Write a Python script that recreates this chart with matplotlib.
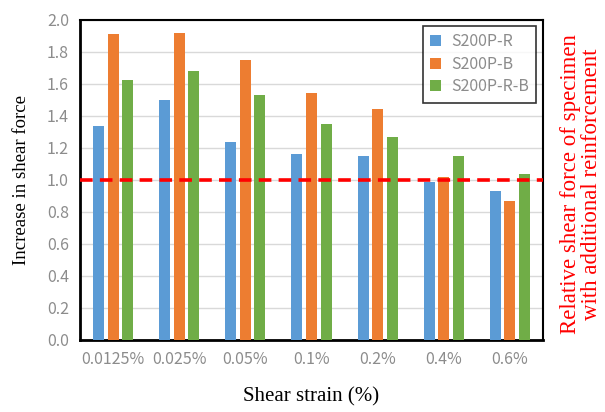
import numpy as np
import matplotlib.pyplot as plt

categories = ["0.0125%", "0.025%", "0.05%", "0.1%", "0.2%", "0.4%", "0.6%"]
series_names = ["S200P-R", "S200P-B", "S200P-R-B"]
r_vals = [1.34, 1.50, 1.24, 1.16, 1.15, 0.99, 0.93]
b_vals = [1.91, 1.92, 1.75, 1.545, 1.445, 1.02, 0.87]
rb_vals = [1.625, 1.68, 1.53, 1.35, 1.27, 1.15, 1.04]
yticks = [0.0, 0.2, 0.4, 0.6, 0.8, 1.0, 1.2, 1.4, 1.6, 1.8, 2.0]

colors = ["#5b9bd5", "#ed7d31", "#70ad47"]
tick_grey = "#8c8c8c"

fig = plt.figure(figsize=(6.05, 4.12), dpi=100)
ax = fig.add_axes([80 / 605, 1 - 340 / 412, 463 / 605, 320 / 412])

x = np.arange(len(categories))
w = 0.167
step = 0.22
for i, (vals, name) in enumerate(zip([r_vals, b_vals, rb_vals], series_names)):
    ax.bar(x + (i - 1) * step, vals, width=w, color=colors[i], label=name, zorder=3)

ax.axhline(1.0, color="red", linestyle=(0, (3.5, 2)), linewidth=2.6, zorder=4)

ax.set_xlim(-0.5, len(categories) - 0.5)
ax.set_ylim(0, 2.0)
ax.set_yticks(yticks)
ax.set_yticklabels([f"{t:.1f}" for t in yticks])
ax.set_xticks(x)
ax.set_xticklabels(categories)
ax.tick_params(axis="both", length=0, labelsize=11.5, colors=tick_grey, pad=8)
for lab in ax.get_xticklabels() + ax.get_yticklabels():
    lab.set_family("Noto Sans CJK SC")
ax.grid(axis="y", color="#d9d9d9", linewidth=1, zorder=0)

for side in ["left", "bottom"]:
    ax.spines[side].set_linewidth(2)
for side in ["top", "right"]:
    ax.spines[side].set_linewidth(1.5)

ax.set_xlabel("Shear strain (%)", family="Liberation Serif", fontsize=15, labelpad=14)
ax.set_ylabel("Increase in shear force", family="Liberation Serif", fontsize=13.5, labelpad=12)

fig.text(581 / 605, 1 - 184 / 412, "Relative shear force of specimen\nwith additional reinforcement",
         rotation=90, color="red", family="Liberation Serif", fontsize=16.5,
         ha="center", va="center", linespacing=0.95)

leg = ax.legend(loc="upper right", bbox_to_anchor=(0.985, 0.981), borderaxespad=0,
                fancybox=False, edgecolor="black", handlelength=0.7, handleheight=0.7,
                prop={"family": "Noto Sans CJK SC", "size": 11.5}, borderpad=0.45,
                labelspacing=0.35, handletextpad=0.6)
leg.get_frame().set_linewidth(1.2)
for t in leg.get_texts():
    t.set_color(tick_grey)

fig.savefig("out.png", dpi=100)
